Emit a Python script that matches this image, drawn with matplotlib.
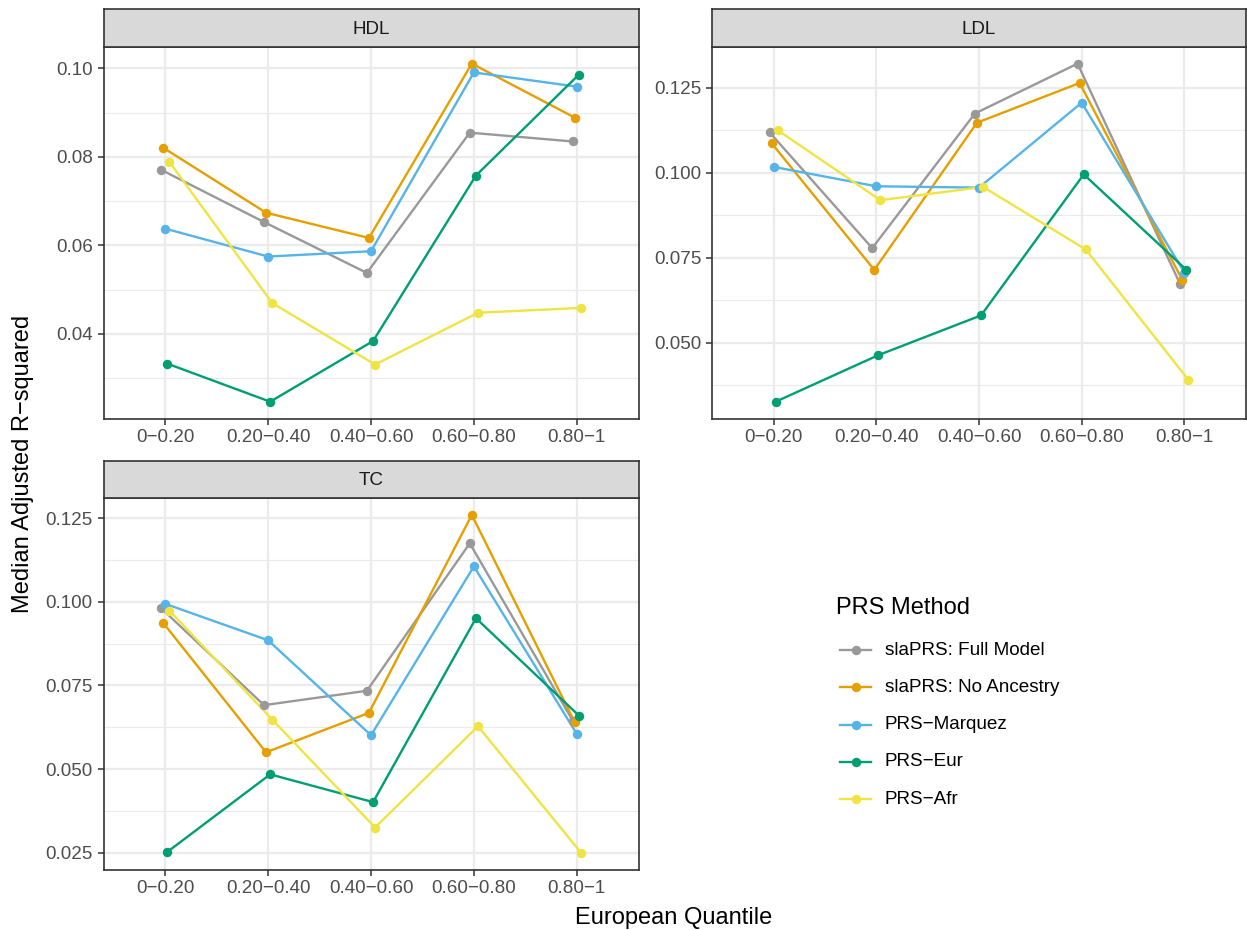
import matplotlib
matplotlib.use("Agg")
import matplotlib.pyplot as plt
from matplotlib.lines import Line2D
from matplotlib.ticker import MultipleLocator, FormatStrFormatter
import numpy as np

plt.rcParams['font.family'] = ['Liberation Sans', 'DejaVu Sans']

# ---------------- data ----------------
categories = ["0\u22120.20", "0.20\u22120.40", "0.40\u22120.60", "0.60\u22120.80", "0.80\u22121"]
methods = ["slaPRS: Full Model", "slaPRS: No Ancestry", "PRS\u2212Marquez", "PRS\u2212Eur", "PRS\u2212Afr"]
colors = ["#999999", "#E69F00", "#56B4E9", "#009E73", "#F0E442"]

hdl_full = [0.0771, 0.0653, 0.0538, 0.0855, 0.0835]
hdl_noanc = [0.0821, 0.0674, 0.0617, 0.1011, 0.0889]
hdl_marquez = [0.0638, 0.0575, 0.0587, 0.0991, 0.0959]
hdl_eur = [0.0333, 0.0247, 0.0384, 0.0758, 0.0986]
hdl_afr = [0.0789, 0.0470, 0.0331, 0.0448, 0.0459]

ldl_full = [0.1119, 0.0778, 0.1174, 0.1321, 0.0671]
ldl_noanc = [0.1087, 0.0714, 0.1147, 0.1264, 0.0684]
ldl_marquez = [0.1017, 0.0960, 0.0956, 0.1206, 0.0706]
ldl_eur = [0.0326, 0.0463, 0.0580, 0.0995, 0.0714]
ldl_afr = [0.1125, 0.0919, 0.0958, 0.0774, 0.0390]

tc_full = [0.0981, 0.0691, 0.0734, 0.1175, 0.0645]
tc_noanc = [0.0937, 0.0550, 0.0668, 0.1260, 0.0640]
tc_marquez = [0.0994, 0.0885, 0.0601, 0.1106, 0.0605]
tc_eur = [0.0252, 0.0484, 0.0401, 0.0951, 0.0660]
tc_afr = [0.0974, 0.0648, 0.0325, 0.0628, 0.0250]

panels = [
    ("HDL", [hdl_full, hdl_noanc, hdl_marquez, hdl_eur, hdl_afr], 0.02, 0.01, "%.2f"),
    ("LDL", [ldl_full, ldl_noanc, ldl_marquez, ldl_eur, ldl_afr], 0.025, 0.0125, "%.3f"),
    ("TC", [tc_full, tc_noanc, tc_marquez, tc_eur, tc_afr], 0.025, 0.0125, "%.3f"),
]

# ---------------- layout (pixels) ----------------
W, H = 1247, 930
fig = plt.figure(figsize=(W / 100, H / 100), dpi=100)

def rect(l, t, r, b):
    return [l / W, 1 - b / H, (r - l) / W, (b - t) / H]

boxes = [
    (103.5, 46.7, 638.5, 418.6, 9.3),
    (712.0, 46.7, 1246.0, 418.6, 9.3),
    (103.5, 498.0, 638.5, 869.5, 461.0),
]

GRID = "#EBEBEB"
DARK = "#333333"
TICKC = "#4D4D4D"
SMALL = 13.6
LARGE = 17.0
LW = 1.7
MS = 6.8

dodge = np.array([-0.04, -0.02, 0.0, 0.02, 0.04])
xpos = np.arange(len(categories)) + 1

for (name, series, major, minor, fmt), (l, t, r, b, st) in zip(panels, boxes):
    ax = fig.add_axes(rect(l, t, r, b))
    ax.set_facecolor("white")
    for i, (vals, c) in enumerate(zip(series, colors)):
        ax.plot(xpos + dodge[i], vals, color=c, lw=LW, zorder=3, solid_capstyle="butt")
    for i, (vals, c) in enumerate(zip(series, colors)):
        ax.plot(xpos + dodge[i], vals, ls="none", marker="o", ms=MS, color=c,
                mec=c, mew=0, zorder=4)
    allv = np.concatenate([np.asarray(s) for s in series])
    lo, hi = allv.min(), allv.max()
    pad = (hi - lo) * 0.05
    ax.set_ylim(lo - pad, hi + pad)
    ax.set_xlim(0.4, 5.6)
    ax.set_xticks(xpos)
    ax.set_xticklabels(categories)
    ax.yaxis.set_major_locator(MultipleLocator(major))
    ax.yaxis.set_minor_locator(MultipleLocator(minor))
    ax.yaxis.set_major_formatter(FormatStrFormatter(fmt))
    ax.grid(True, which="major", color=GRID, lw=1.6, zorder=0)
    ax.grid(True, which="minor", axis="y", color=GRID, lw=0.8, zorder=0)
    ax.set_axisbelow(True)
    ax.tick_params(axis="both", which="major", length=4.3, width=1.1, color=DARK,
                   labelsize=SMALL, labelcolor=TICKC, pad=3.5)
    ax.tick_params(axis="both", which="minor", length=0)
    for sp in ax.spines.values():
        sp.set_color(DARK)
        sp.set_linewidth(1.2)
        sp.set_zorder(5)
    # strip
    sax = fig.add_axes(rect(l, st, r, t))
    sax.set_facecolor("#D9D9D9")
    sax.set_xticks([])
    sax.set_yticks([])
    for sp in sax.spines.values():
        sp.set_color(DARK)
        sp.set_linewidth(1.2)
    sax.text(0.5, 0.47, name, ha="center", va="center", fontsize=SMALL,
             color="#1A1A1A", transform=sax.transAxes)

# axis titles
fig.text(674 / W, 1 - 918 / H, "European Quantile", ha="center", va="center",
         fontsize=LARGE, color="black")
fig.text(23 / W, 1 - 464 / H, "Median Adjusted R\u2212squared", ha="center", va="center",
         rotation=90, fontsize=LARGE, color="black")

# legend (drawn manually in figure pixel coordinates)
fig.text(836.5 / W, 1 - 608.3 / H, "PRS Method", ha="left", va="center",
         fontsize=LARGE, color="black")
legend_y = [650.0, 687.3, 724.6, 761.9, 799.2]
for m, c, yy in zip(methods, colors, legend_y):
    fy = 1 - yy / H
    fig.add_artist(Line2D([840 / W, 871 / W], [fy, fy], color=c, lw=LW,
                          transform=fig.transFigure))
    fig.add_artist(Line2D([855.5 / W], [fy], marker="o", ms=MS, color=c, mew=0,
                          ls="none", transform=fig.transFigure))
    fig.text(885 / W, fy, m, ha="left", va="center", fontsize=SMALL, color="black")

fig.savefig("out.png", dpi=100, facecolor="white")
